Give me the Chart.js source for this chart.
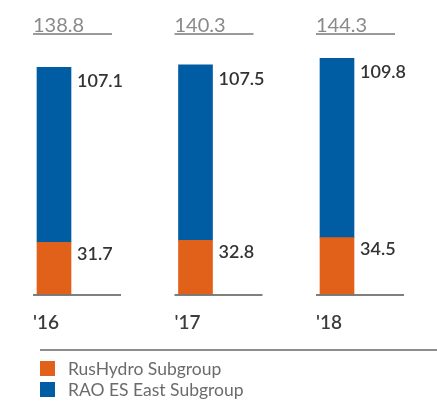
<!DOCTYPE html>
<html>
<head>
<meta charset="utf-8">
<script src="https://cdn.jsdelivr.net/npm/chart.js@4.4.1/dist/chart.umd.min.js"></script>
<style>
  html, body { margin: 0; padding: 0; background: #fff; }
  #wrap { width: 437px; height: 401px; }
</style>
</head>
<body>
<div id="wrap"><canvas id="grafico" width="437" height="401"></canvas></div>
<script>
// Datos del gráfico
const anios = ["'16", "'17", "'18"];
const rusHydro = [31.7, 32.8, 34.5];
const raoEast = [107.1, 107.5, 109.8];
const totales = [138.8, 140.3, 144.3];
const nombres = ["RusHydro Subgroup", "RAO ES East Subgroup"];

const colorNaranja = "#E2611A";
const colorAzul = "#005CA3";
const fuente = "Lato, 'Noto Sans', sans-serif";

// Dibuja totales, valores, años, líneas base y la leyenda
const etiquetasPlugin = {
    id: "etiquetas",
    afterDatasetsDraw(chart) {
        const ctx = chart.ctx;
        const ceroY = chart.scales.y.getPixelForValue(0);
        const metaNaranja = chart.getDatasetMeta(0);
        const metaAzul = chart.getDatasetMeta(1);

        ctx.save();
        metaNaranja.data.forEach((barra, i) => {
            const cx = barra.x;
            const izq = cx - 21;

            // total arriba con subrayado
            ctx.font = "400 20px " + fuente;
            ctx.fillStyle = "#8a8a8a";
            ctx.textAlign = "left";
            ctx.textBaseline = "alphabetic";
            ctx.fillText(totales[i].toFixed(1), izq, 32);
            ctx.strokeStyle = "#9a9a9a";
            ctx.lineWidth = 2;
            ctx.beginPath();
            ctx.moveTo(izq, 34);
            ctx.lineTo(izq + 79, 34);
            ctx.stroke();

            // línea base
            ctx.strokeStyle = "#555";
            ctx.lineWidth = 1.5;
            ctx.beginPath();
            ctx.moveTo(izq, ceroY + 1);
            ctx.lineTo(izq + 88, ceroY + 1);
            ctx.stroke();

            // valores de cada segmento
            ctx.font = "600 18px " + fuente;
            ctx.fillStyle = "#333";
            ctx.textBaseline = "middle";
            const azul = metaAzul.data[i];
            ctx.fillText(raoEast[i].toFixed(1), azul.x + azul.width / 2 + 6, azul.y + 14);
            ctx.fillText(rusHydro[i].toFixed(1), barra.x + barra.width / 2 + 6, barra.y + 12);

            // año
            ctx.font = "600 19px " + fuente;
            ctx.fillStyle = "#3c3c3c";
            ctx.fillText(anios[i], izq, 323);
        });

        // separador de la leyenda
        ctx.strokeStyle = "#8c8c8c";
        ctx.lineWidth = 2;
        ctx.beginPath();
        ctx.moveTo(40, 350);
        ctx.lineTo(437, 350);
        ctx.stroke();

        // leyenda
        const colores = [colorNaranja, colorAzul];
        ctx.font = "400 17.5px " + fuente;
        ctx.textBaseline = "middle";
        nombres.forEach((nombre, i) => {
            const y = 361 + i * 21;
            ctx.fillStyle = colores[i];
            ctx.fillRect(40, y, 15, 15);
            ctx.fillStyle = "#6b6b6b";
            ctx.fillText(nombre, 68, y + 8);
        });
        ctx.restore();
    }
};

new Chart(document.getElementById("grafico").getContext("2d"), {
    type: "bar",
    data: {
        labels: anios,
        datasets: [
            { label: nombres[0], data: rusHydro, backgroundColor: colorNaranja, barThickness: 34, clip: false },
            { label: nombres[1], data: raoEast, backgroundColor: colorAzul, barThickness: 34, clip: false }
        ]
    },
    options: {
        responsive: false,
        animation: false,
        layout: { padding: { left: 54, right: 100, top: 49, bottom: 107 } },
        plugins: {
            legend: { display: false },
            tooltip: { enabled: false }
        },
        scales: {
            x: { stacked: true, display: false, offset: false },
            y: { stacked: true, display: false, min: 0, max: 150 }
        }
    },
    plugins: [etiquetasPlugin]
});
</script>
</body>
</html>
